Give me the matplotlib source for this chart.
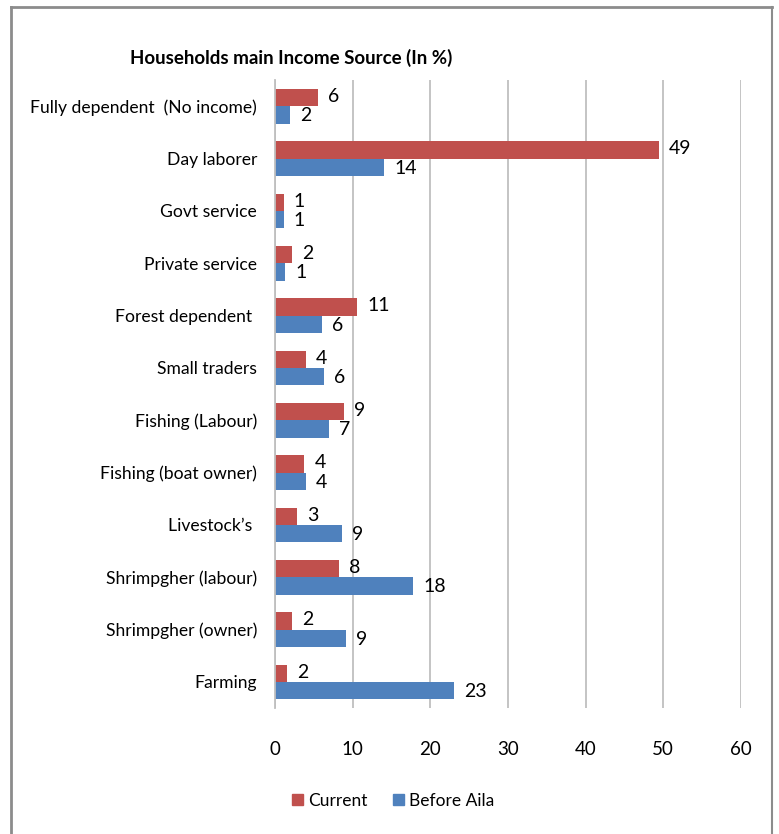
import numpy as np
import matplotlib.pyplot as plt
from matplotlib.lines import Line2D
from matplotlib.patches import Patch

plt.rcParams['font.family'] = ['Lato', 'DejaVu Sans']

categories = ["Fully dependent  (No income)", "Day laborer", "Govt service",
              "Private service", "Forest dependent ", "Small traders",
              "Fishing (Labour)", "Fishing (boat owner)", "Livestock\u2019s ",
              "Shrimpgher (labour)", "Shrimpgher (owner)", "Farming"]
current = [5.5, 49.4, 1.1, 2.2, 10.6, 4.0, 8.9, 3.8, 2.8, 8.2, 2.2, 1.6]
before_aila = [1.9, 14.1, 1.1, 1.3, 6.0, 6.3, 7.0, 4.0, 8.6, 17.8, 9.1, 23.0]
xticks = [0, 10, 20, 30, 40, 50, 60]

red = '#c0504d'
blue = '#4f81bd'

fig = plt.figure(figsize=(7.79, 8.34), dpi=100)
ax = fig.add_axes([0.353, 0.151, 0.598, 0.753])

y = np.arange(len(categories))
h = 0.33
ax.barh(y - h / 2, current, height=h, color=red, label='Current')
ax.barh(y + h / 2, before_aila, height=h, color=blue, label='Before Aila')

for yi, c, b in zip(y, current, before_aila):
    ax.text(c + 1.3, yi - h / 2 - 0.02, '%d' % round(c), va='center', ha='left', fontsize=14)
    ax.text(b + 1.3, yi + h / 2 + 0.02, '%d' % round(b), va='center', ha='left', fontsize=14)

ax.set_ylim(len(categories) - 0.5, -0.5)
ax.set_xlim(0, 60)
ax.set_xticks(xticks)
ax.set_yticks(y)
ax.set_yticklabels(categories, fontsize=12.6)
ax.tick_params(axis='x', labelsize=13.5, length=0, pad=24)
ax.tick_params(axis='y', length=0, pad=13)
ax.xaxis.grid(True, color='#bfbfbf', linewidth=1.3)
ax.set_axisbelow(True)
for s in ['top', 'right', 'bottom']:
    ax.spines[s].set_visible(False)
ax.spines['left'].set_color('#bfbfbf')
ax.spines['left'].set_linewidth(1.3)

fig.text(0.167, 0.930, 'Households main Income Source (In %)', fontsize=13.5,
         fontweight='bold', ha='left', va='center')

handles = [Patch(color=red), Patch(color=blue)]
fig.legend(handles, ['Current', 'Before Aila'], loc='center', ncol=2,
           bbox_to_anchor=(0.505, 0.040), frameon=False, fontsize=12.5,
           handlelength=0.6, handleheight=0.6, handletextpad=0.3, columnspacing=1.5)

# outer chart border
border = '#8c8c8c'
fig.add_artist(Line2D([0.0141, 0.0141], [0.0, 0.9916], color=border, lw=2))
fig.add_artist(Line2D([0.0141, 0.991], [0.9916, 0.9916], color=border, lw=2))
fig.add_artist(Line2D([0.991, 0.991], [0.0, 0.9916], color=border, lw=1.5))

fig.savefig('out.png', dpi=100)
